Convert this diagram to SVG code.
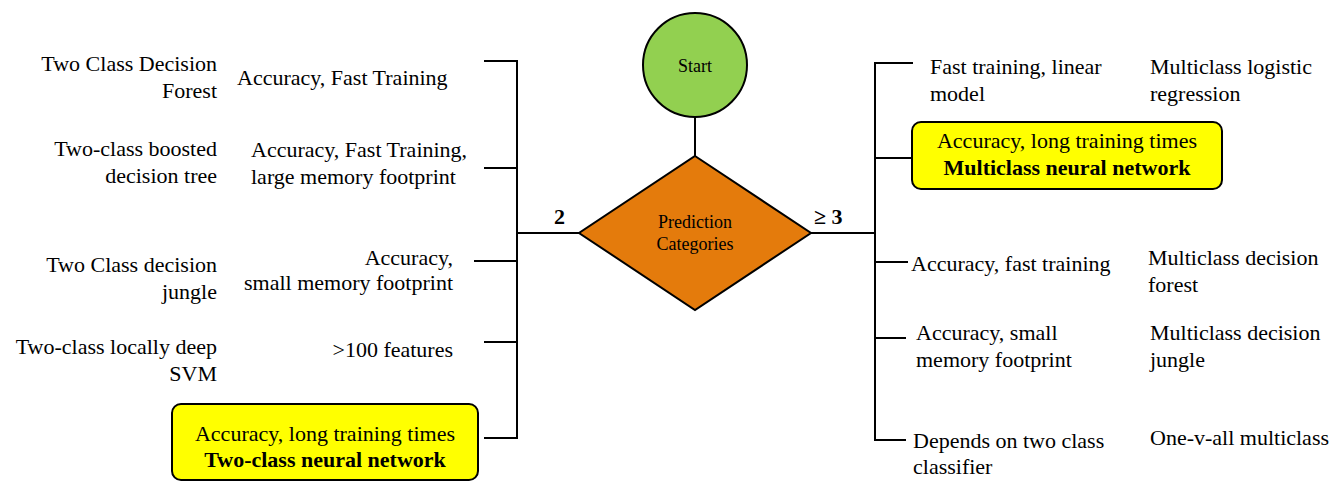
<svg xmlns="http://www.w3.org/2000/svg" width="1335" height="483" viewBox="0 0 1335 483">
<style>
text{font-family:"Liberation Serif","Times New Roman",Tinos,"DejaVu Serif",serif;fill:#000;}
.t{font-size:22px;}
.r{text-anchor:end;}
.m{text-anchor:middle;}
.b{font-weight:bold;}
.ln{stroke:#000;stroke-width:2;fill:none;}
.box{fill:#FFFF00;stroke:#000;stroke-width:2;}
</style>
<rect width="1335" height="483" fill="#fff"/>
<g id="connectors">
<path class="ln" d="M695,117 V156"/>
<path class="ln" d="M579,233 H517 M484,61 H517 V438 H484 M484,168 H517 M474,261 H517 M484,342 H517"/>
<path class="ln" d="M811,233 H875 M913,63 H875 V440 H906 M875,158 H912 M875,262 H908 M875,338 H906"/>
<text class="b" x="554" y="224" font-size="22">2</text>
<text class="b" x="814" y="224" font-size="22">≥ 3</text>
</g>
<g id="start">
<circle cx="695" cy="65" r="52" fill="#92D050" stroke="#000" stroke-width="2"/>
<text class="m" x="695" y="72" font-size="18">Start</text>
</g>
<g id="decision">
<polygon points="695,156 811,233 695,310 579,233" fill="#E47B0C" stroke="#000" stroke-width="2"/>
<text class="m" x="695" y="228" font-size="18">Prediction</text>
<text class="m" x="695" y="250" font-size="18">Categories</text>
</g>
<g id="l1">
<text class="t r" x="217" y="71">Two Class Decision</text>
<text class="t r" x="217" y="98">Forest</text>
<text class="t" x="237" y="85">Accuracy, Fast Training</text>
</g>
<g id="l2">
<text class="t r" x="217" y="156">Two-class boosted</text>
<text class="t r" x="217" y="183">decision tree</text>
<text class="t" x="251" y="157">Accuracy, Fast Training,</text>
<text class="t" x="251" y="184">large memory footprint</text>
</g>
<g id="l3">
<text class="t r" x="217" y="272">Two Class decision</text>
<text class="t r" x="217" y="299">jungle</text>
<text class="t r" x="453" y="265">Accuracy,</text>
<text class="t r" x="453" y="290">small memory footprint</text>
</g>
<g id="l4">
<text class="t r" x="217" y="354">Two-class locally deep</text>
<text class="t r" x="217" y="381">SVM</text>
<text class="t r" x="453" y="357">&gt;100 features</text>
</g>
<g id="l5">
<rect class="box" x="172" y="404" width="306" height="76" rx="9"/>
<text class="t m" x="325" y="441">Accuracy, long training times</text>
<text class="t m b" x="325" y="467">Two-class neural network</text>
</g>
<g id="r1">
<text class="t" x="930" y="74">Fast training, linear</text>
<text class="t" x="930" y="101">model</text>
<text class="t" x="1150" y="74">Multiclass logistic</text>
<text class="t" x="1150" y="101">regression</text>
</g>
<g id="r2">
<rect class="box" x="912" y="122" width="310" height="67" rx="9"/>
<text class="t m" x="1067" y="148">Accuracy, long training times</text>
<text class="t m b" x="1067" y="175">Multiclass neural network</text>
</g>
<g id="r3">
<text class="t" x="911" y="271">Accuracy, fast training</text>
<text class="t" x="1148" y="265">Multiclass decision</text>
<text class="t" x="1148" y="292">forest</text>
</g>
<g id="r4">
<text class="t" x="916" y="340">Accuracy, small</text>
<text class="t" x="916" y="367">memory footprint</text>
<text class="t" x="1150" y="340">Multiclass decision</text>
<text class="t" x="1150" y="367">jungle</text>
</g>
<g id="r5">
<text class="t" x="913" y="448">Depends on two class</text>
<text class="t" x="913" y="474">classifier</text>
<text class="t" x="1150" y="445">One-v-all multiclass</text>
</g>
</svg>
